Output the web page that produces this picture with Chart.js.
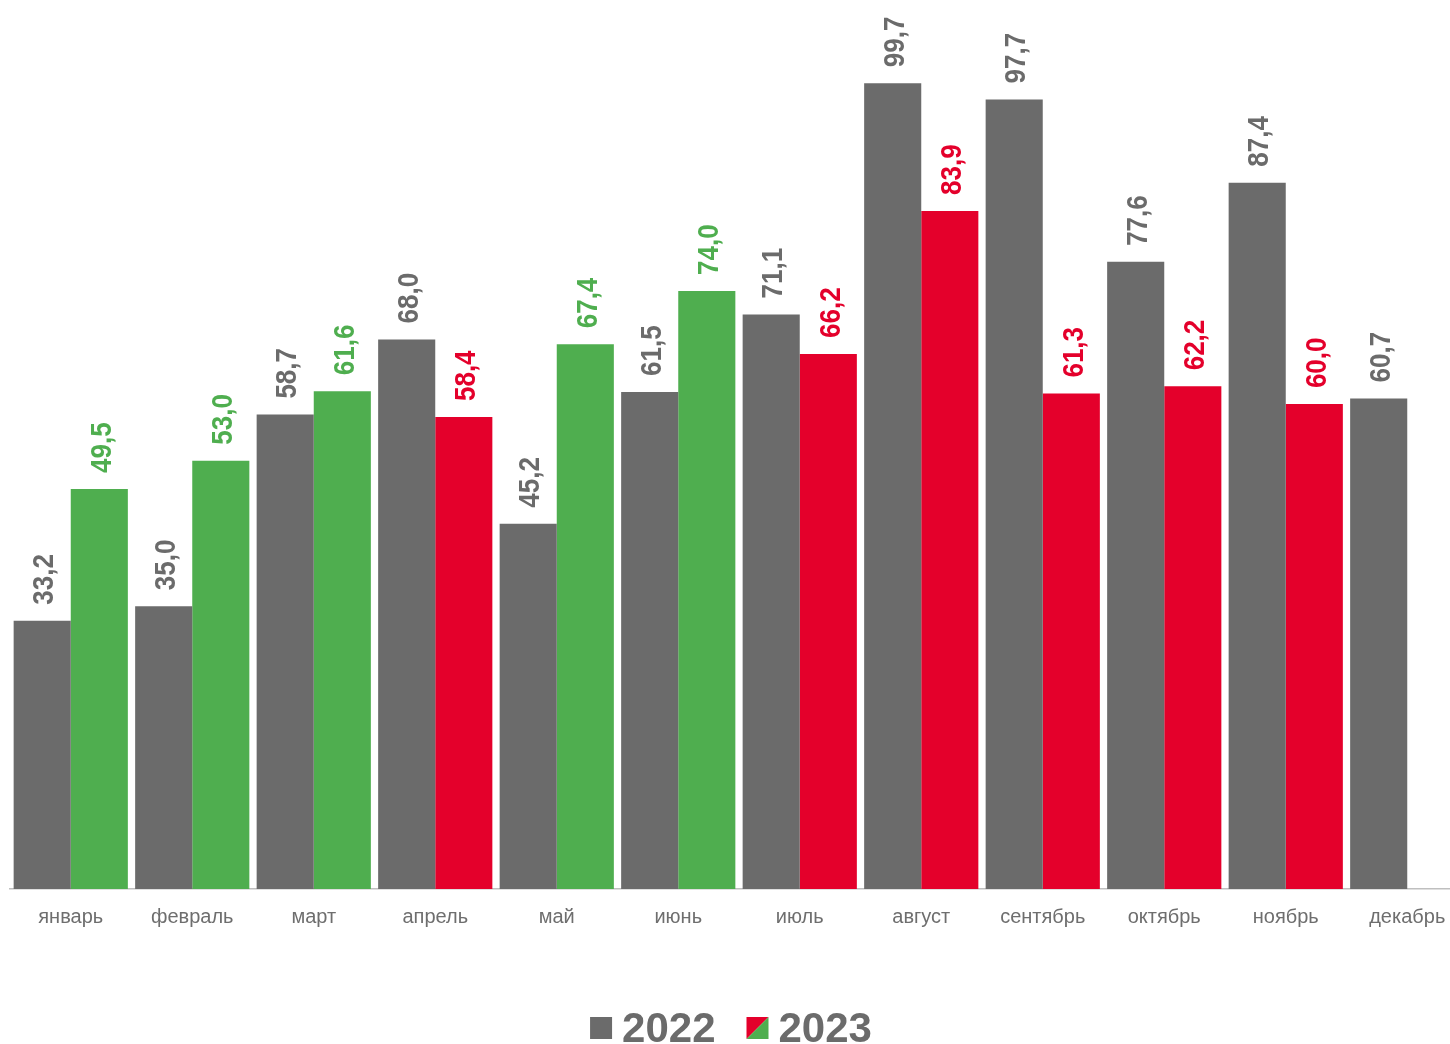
<!DOCTYPE html>
<html lang="ru">
<head>
<meta charset="utf-8">
<title>2022 / 2023</title>
<script src="https://cdn.jsdelivr.net/npm/chart.js@4/dist/chart.umd.min.js"></script>
<style>
    html, body { margin: 0; padding: 0; background: #fff; overflow: hidden; }
    #wrap { width: 1470px; height: 1044px; }
</style>
</head>
<body>
<div id="wrap"><canvas id="salesChart"></canvas></div>
<script>
'use strict';

// ===== ДАННЫЕ =====
const months = ['январь', 'февраль', 'март', 'апрель', 'май', 'июнь',
    'июль', 'август', 'сентябрь', 'октябрь', 'ноябрь', 'декабрь'];
const values2022 = [33.2, 35.0, 58.7, 68.0, 45.2, 61.5, 71.1, 99.7, 97.7, 77.6, 87.4, 60.7];
const values2023 = [49.5, 53.0, 61.6, 58.4, 67.4, 74.0, 66.2, 83.9, 61.3, 62.2, 60.0, null];
const seriesNames = ['2022', '2023'];

// ===== ЦВЕТА =====
const GRAY = '#6b6b6b';
const GREEN = '#4fae4f';
const RED = '#e4002b';

// 2023: зелёный если выше 2022, красный если ниже
const colors2023 = values2023.map(function(v, i) {
    return (v !== null && v >= values2022[i]) ? GREEN : RED;
});

function fmt(v) {
    return v.toFixed(1).replace('.', ',');
}

// ===== ПОДПИСИ НАД СТОЛБЦАМИ =====
const barLabels = {
    id: 'barLabels',
    afterDatasetsDraw: function(chart) {
        const ctx = chart.ctx;
        ctx.save();
        ctx.font = 'bold 26px "Liberation Sans", Arial, sans-serif';
        ctx.textAlign = 'left';
        ctx.textBaseline = 'middle';
        chart.data.datasets.forEach(function(ds, di) {
            const meta = chart.getDatasetMeta(di);
            meta.data.forEach(function(bar, i) {
                const v = ds.data[i];
                if (v === null || v === undefined) return;
                ctx.fillStyle = Array.isArray(ds.backgroundColor) ? ds.backgroundColor[i] : ds.backgroundColor;
                ctx.save();
                ctx.translate(bar.x + 3, bar.y - 16);
                ctx.rotate(-Math.PI / 2);
                ctx.scale(1, 1.15);
                ctx.fillText(fmt(v), 0, 0);
                ctx.restore();
            });
        });
        ctx.restore();
    }
};

// ===== ЛЕГЕНДА =====
const bottomLegend = {
    id: 'bottomLegend',
    afterDraw: function(chart) {
        const ctx = chart.ctx;
        const cy = 1028;
        const box = 22;
        ctx.save();
        ctx.font = 'bold 42px "Liberation Sans", Arial, sans-serif';
        ctx.textBaseline = 'middle';
        ctx.textAlign = 'left';

        const w1 = ctx.measureText(seriesNames[0]).width;
        const w2 = ctx.measureText(seriesNames[1]).width;
        const total = box + 10 + w1 + 31 + box + 10 + w2;
        let x = 1450 / 2 - total / 2 + 6;

        // 2022
        ctx.fillStyle = GRAY;
        ctx.fillRect(x, cy - box / 2, box, box);
        x += box + 10;
        ctx.fillText(seriesNames[0], x, cy + 2);
        x += w1 + 31;

        // 2023 — половина красная, половина зелёная
        const top = cy - box / 2;
        ctx.fillStyle = RED;
        ctx.beginPath();
        ctx.moveTo(x, top);
        ctx.lineTo(x + box, top);
        ctx.lineTo(x, top + box);
        ctx.closePath();
        ctx.fill();
        ctx.fillStyle = GREEN;
        ctx.beginPath();
        ctx.moveTo(x + box, top);
        ctx.lineTo(x + box, top + box);
        ctx.lineTo(x, top + box);
        ctx.closePath();
        ctx.fill();
        x += box + 10;
        ctx.fillStyle = GRAY;
        ctx.fillText(seriesNames[1], x, cy + 2);
        ctx.restore();
    }
};

document.addEventListener('DOMContentLoaded', function() {
    const canvas = document.getElementById('salesChart');
    new Chart(canvas, {
        type: 'bar',
        data: {
            labels: months,
            datasets: [{
                label: seriesNames[0],
                data: values2022,
                backgroundColor: GRAY
            }, {
                label: seriesNames[1],
                data: values2023,
                backgroundColor: colors2023
            }]
        },
        options: {
            responsive: true,
            maintainAspectRatio: false,
            animation: false,
            categoryPercentage: 0.94,
            barPercentage: 1.0,
            layout: {
                padding: { left: 10, right: 2, top: 0, bottom: 115 }
            },
            plugins: {
                legend: { display: false },
                tooltip: { enabled: false }
            },
            scales: {
                x: {
                    grid: { display: false },
                    border: { color: '#bfbfbf', width: 1.5 },
                    afterFit: function(scale) {
                        scale.height = 40;
                    },
                    ticks: {
                        color: '#6e6e6e',
                        padding: 8,
                        maxRotation: 0,
                        autoSkip: false,
                        font: { family: '"Liberation Sans", Arial, sans-serif', size: 20 }
                    }
                },
                y: {
                    display: false,
                    min: 0,
                    max: 110
                }
            }
        },
        plugins: [barLabels, bottomLegend]
    });
});
</script>
</body>
</html>
